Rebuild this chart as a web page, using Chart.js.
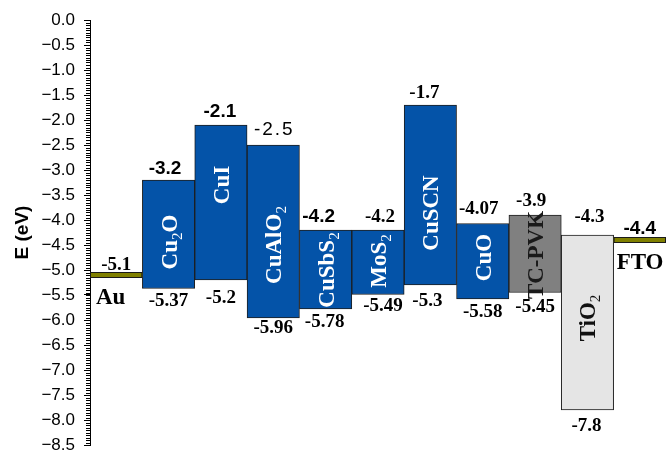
<!DOCTYPE html>
<html>
<head>
<meta charset="utf-8">
<title>Energy level diagram</title>
<script src="https://cdn.jsdelivr.net/npm/chart.js@4.4.1/dist/chart.umd.min.js"></script>
<style>
  html, body { margin: 0; padding: 0; background: #fff; }
  #wrap { width: 669px; height: 452px; }
</style>
</head>
<body>
<div id="wrap"><canvas id="bandChart" width="669" height="452"></canvas></div>
<script>
// Layers from left to right ("_" marks a one-character subscript)
const layers = ['Au', 'Cu_2O', 'CuI', 'CuAlO_2', 'CuSbS_2', 'MoS_2', 'CuSCN', 'CuO', 'TC-PVK', 'TiO_2', 'FTO'];
// Upper band edge (CB / LUMO), eV
const upperEdge = [null, -3.2, -2.1, -2.5, -4.2, -4.2, -1.7, -4.07, -3.9, -4.3, null];
// Lower band edge (VB / HOMO), eV
const lowerEdge = [null, -5.37, -5.2, -5.96, -5.78, -5.49, -5.3, -5.58, -5.45, -7.8, null];
// Electrode work functions, eV
const workFunction = [-5.1, null, null, null, null, null, null, null, null, null, -4.4];
// Energy axis
const energyMin = -8.5;
const energyMax = 0;
const energyStep = 0.5;
const minorStep = 0.05;

// ---- styling ----
const blue = '#0453a8';
const fillColors = [null, blue, blue, blue, blue, blue, blue, blue, '#808080', '#e5e5e5', null];
const nameColors = ['#000', '#fff', '#fff', '#fff', '#fff', '#fff', '#fff', '#fff', '#1a1a1a', '#111', '#000'];
const contactColor = '#808000';
const serifBold = 'bold 19px "Liberation Serif"';
const sansBold = 'bold 19px "Liberation Sans"';
const sansPlain = '19px "Liberation Sans"';
const nameFont = 'bold 23px "Liberation Serif"';
const subFont = '15px "Liberation Serif"';

// label placement: font of the upper value, [dx, gap] above and below each bar
const upperFont = [serifBold, sansBold, sansBold, sansPlain, sansBold, serifBold, serifBold, serifBold, serifBold, serifBold, sansBold];
const upperNudge = [[0, 5], [-3.5, 6], [-1, 8], [1, 10], [-7, 8], [2, 8], [-6, 7], [-4, 10], [-4, 9], [2, 13], [0, 6]];
const lowerNudge = [null, [0, 4], [0, 10], [0, 2], [-1, 5], [5, 3], [-3, 8], [0, 5], [0, 6], [-1, 8], null];
// energy (eV) at which each rotated layer name is centred
const nameCenter = [null, -4.44, -3.3, -4.5, -5.0, -4.82, -3.86, -4.75, -4.7, -5.96, null];

function splitName(name) {
  const parts = [];
  for (let i = 0; i < name.length; i++) {
    if (name[i] === '_') {
      parts.push({ t: name[i + 1], sub: true });
      i++;
    } else if (parts.length && !parts[parts.length - 1].sub) {
      parts[parts.length - 1].t += name[i];
    } else {
      parts.push({ t: name[i], sub: false });
    }
  }
  return parts;
}

function drawRotatedName(ctx, name, cx, cy, color) {
  const parts = splitName(name);
  let total = 0;
  parts.forEach(p => {
    ctx.font = p.sub ? subFont : nameFont;
    p.w = ctx.measureText(p.t).width;
    total += p.w;
  });
  ctx.save();
  ctx.translate(cx, cy);
  ctx.rotate(-Math.PI / 2);
  ctx.fillStyle = color;
  ctx.textAlign = 'left';
  ctx.textBaseline = 'alphabetic';
  let pos = -total / 2;
  parts.forEach(p => {
    ctx.font = p.sub ? subFont : nameFont;
    ctx.fillText(p.t, pos, p.sub ? 13 : 8);
    pos += p.w;
  });
  ctx.restore();
}

function drawValue(ctx, value, x, y, font) {
  ctx.font = font;
  ctx.letterSpacing = font === sansPlain ? '2px' : '0px';
  ctx.fillStyle = '#000';
  ctx.textAlign = 'center';
  ctx.textBaseline = 'alphabetic';
  ctx.fillText(String(value), x, y);
  ctx.letterSpacing = '0px';
}

// Electrode lines, band values and layer names
const bandLabels = {
  id: 'bandLabels',
  afterDatasetsDraw(chart) {
    const { ctx, scales: { x, y } } = chart;
    const half = x.width / layers.length / 2;
    ctx.save();
    layers.forEach((name, i) => {
      const cx = x.getPixelForValue(i);
      if (workFunction[i] !== null) {
        const py = y.getPixelForValue(workFunction[i]);
        ctx.fillStyle = contactColor;
        ctx.fillRect(cx - half, py - 2.5, half * 2, 5);
        ctx.strokeStyle = '#1a1a1a';
        ctx.lineWidth = 1;
        ctx.strokeRect(cx - half + 0.5, py - 2.5, half * 2 - 1, 5);
        drawValue(ctx, workFunction[i], cx + upperNudge[i][0], py - upperNudge[i][1], upperFont[i]);
        ctx.font = nameFont;
        ctx.fillStyle = '#000';
        ctx.textAlign = 'left';
        ctx.fillText(name, cx - half + (i === 0 ? 6 : 3), py + 29);
        return;
      }
      const top = y.getPixelForValue(upperEdge[i]);
      const bottom = y.getPixelForValue(lowerEdge[i]);
      drawValue(ctx, upperEdge[i], cx + upperNudge[i][0], top - upperNudge[i][1], upperFont[i]);
      drawValue(ctx, lowerEdge[i], cx + lowerNudge[i][0], bottom + lowerNudge[i][1] + 13, serifBold);
      drawRotatedName(ctx, name, cx, y.getPixelForValue(nameCenter[i]), nameColors[i]);
    });
    ctx.restore();
  }
};

// Fine ticks on the energy axis
const minorTicks = {
  id: 'minorTicks',
  afterDraw(chart) {
    const { ctx, scales: { y } } = chart;
    const x0 = y.right;
    const n = Math.round((energyMax - energyMin) / minorStep);
    ctx.save();
    ctx.strokeStyle = '#000';
    ctx.lineWidth = 1;
    ctx.beginPath();
    for (let k = 0; k <= n; k++) {
      const py = Math.round(y.getPixelForValue(energyMax - k * minorStep)) + 0.5;
      ctx.moveTo(x0 - 4, py);
      ctx.lineTo(x0, py);
    }
    ctx.stroke();
    ctx.restore();
  }
};

const bands = layers.map((_, i) => upperEdge[i] === null ? null : [lowerEdge[i], upperEdge[i]]);

new Chart(document.getElementById('bandChart'), {
  type: 'bar',
  data: {
    labels: layers,
    datasets: [{
      data: bands,
      backgroundColor: fillColors,
      borderColor: '#1e1e1e',
      borderWidth: 1,
      borderSkipped: false,
      categoryPercentage: 1,
      barPercentage: 1
    }]
  },
  options: {
    responsive: false,
    animation: false,
    layout: { padding: { left: 0, right: 3, top: 20, bottom: 7 } },
    plugins: { legend: { display: false }, tooltip: { enabled: false } },
    scales: {
      x: { display: false, offset: true },
      y: {
        min: energyMin,
        max: energyMax,
        border: { display: true, color: '#000', width: 1 },
        grid: { display: true, drawOnChartArea: false, tickLength: 6, tickColor: '#000', color: '#000' },
        ticks: {
          stepSize: energyStep,
          autoSkip: false,
          padding: 9,
          color: '#000',
          font: { family: 'Liberation Sans', size: 17 },
          callback: v => (v < 0 ? '\u2212' : '') + Math.abs(v).toFixed(1)
        },
        title: {
          display: true,
          text: 'E (eV)',
          color: '#000',
          font: { family: 'Liberation Sans', size: 19, weight: 'bold' },
          padding: { top: 11, bottom: 0 }
        },
        afterFit(scale) {
          scale.width = 90;
          scale.paddingTop = 0;
          scale.paddingBottom = 0;
        }
      }
    }
  },
  plugins: [bandLabels, minorTicks]
});
</script>
</body>
</html>
